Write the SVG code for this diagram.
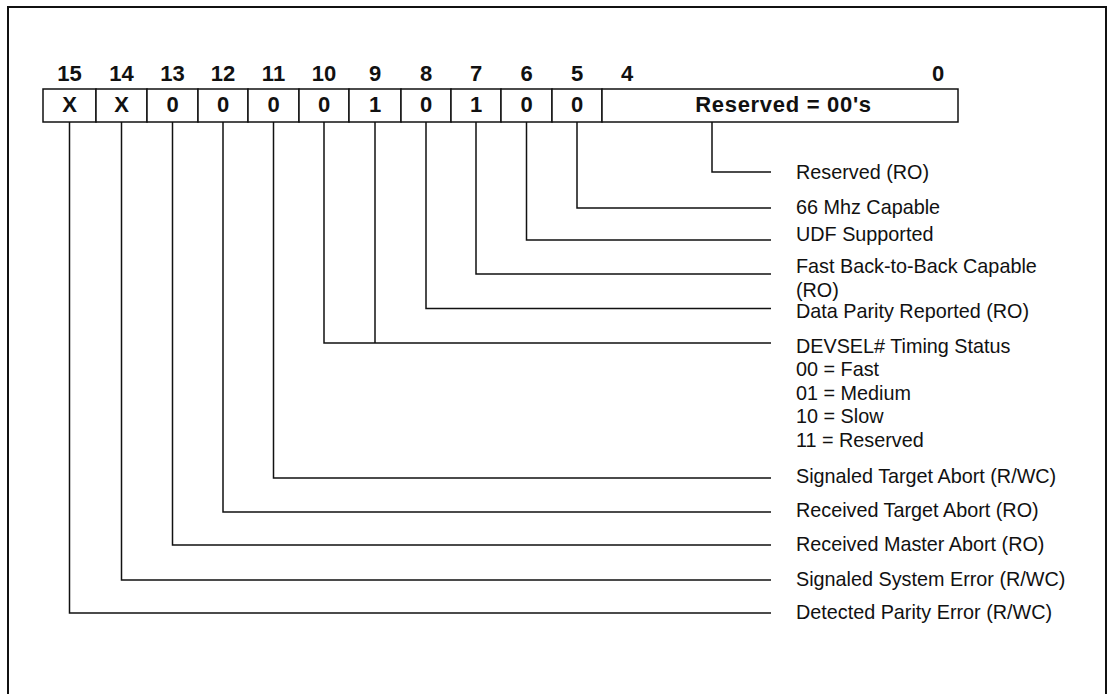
<svg xmlns="http://www.w3.org/2000/svg" width="1111" height="694" viewBox="0 0 1111 694">
<style>
.frame{fill:none;stroke:#111;stroke-width:2}
.cell{fill:#fff;stroke:#111;stroke-width:1.5}
.b{font-family:"Liberation Sans",Arial,Helvetica,sans-serif;font-weight:bold;font-size:22px;fill:#111;text-anchor:middle}
.wide{letter-spacing:0.7px}
.lbl{font-family:"Liberation Sans",Arial,Helvetica,sans-serif;font-size:19.8px;fill:#111}
.conn{fill:none;stroke:#111;stroke-width:1.5}
</style>
<rect x="0" y="0" width="1111" height="694" fill="#fff"/>
<rect class="frame" x="8" y="7" width="1098" height="700"/>
<g id="bit-numbers">
<text class="b" x="69.5" y="81">15</text>
<text class="b" x="121.5" y="81">14</text>
<text class="b" x="172.5" y="81">13</text>
<text class="b" x="223" y="81">12</text>
<text class="b" x="273.5" y="81">11</text>
<text class="b" x="324" y="81">10</text>
<text class="b" x="375" y="81">9</text>
<text class="b" x="426" y="81">8</text>
<text class="b" x="476" y="81">7</text>
<text class="b" x="526.5" y="81">6</text>
<text class="b" x="577" y="81">5</text>
<text class="b" x="627" y="81">4</text>
<text class="b" x="938" y="81">0</text>
</g>
<g id="register">
<g id="bit15"><rect class="cell" x="43" y="89" width="53" height="33"/><text class="b" x="69.5" y="112">X</text></g>
<g id="bit14"><rect class="cell" x="96" y="89" width="51" height="33"/><text class="b" x="121.5" y="112">X</text></g>
<g id="bit13"><rect class="cell" x="147" y="89" width="51" height="33"/><text class="b" x="172.5" y="112">0</text></g>
<g id="bit12"><rect class="cell" x="198" y="89" width="50" height="33"/><text class="b" x="223" y="112">0</text></g>
<g id="bit11"><rect class="cell" x="248" y="89" width="51" height="33"/><text class="b" x="273.5" y="112">0</text></g>
<g id="bit10"><rect class="cell" x="299" y="89" width="50" height="33"/><text class="b" x="324" y="112">0</text></g>
<g id="bit9"><rect class="cell" x="349" y="89" width="52" height="33"/><text class="b" x="375" y="112">1</text></g>
<g id="bit8"><rect class="cell" x="401" y="89" width="50" height="33"/><text class="b" x="426" y="112">0</text></g>
<g id="bit7"><rect class="cell" x="451" y="89" width="50" height="33"/><text class="b" x="476" y="112">1</text></g>
<g id="bit6"><rect class="cell" x="501" y="89" width="51" height="33"/><text class="b" x="526.5" y="112">0</text></g>
<g id="bit5"><rect class="cell" x="552" y="89" width="50" height="33"/><text class="b" x="577" y="112">0</text></g>
<g id="bits4-0"><rect class="cell" x="602" y="89" width="356" height="33"/><text class="b wide" x="783.5" y="112">Reserved = 00's</text></g>
</g>
<g id="connectors">
<path class="conn" d="M712,122V172H771"/>
<path class="conn" d="M577,122V208H771"/>
<path class="conn" d="M526.5,122V240H771"/>
<path class="conn" d="M476,122V274H771"/>
<path class="conn" d="M426,122V308.5H771"/>
<path class="conn" d="M324,122V343H771"/>
<path class="conn" d="M375,122V343"/>
<path class="conn" d="M273.5,122V478H771"/>
<path class="conn" d="M223,122V512H771"/>
<path class="conn" d="M172.5,122V545H771"/>
<path class="conn" d="M121.5,122V580H771"/>
<path class="conn" d="M69.5,122V613H771"/>
</g>
<g id="label-reserved"><text class="lbl" x="796" y="179">Reserved (RO)</text></g>
<g id="label-66mhz"><text class="lbl" x="796" y="213.5">66 Mhz Capable</text></g>
<g id="label-udf"><text class="lbl" x="796" y="241">UDF Supported</text></g>
<g id="label-fastb2b"><text class="lbl" x="796" y="273">Fast Back-to-Back Capable</text><text class="lbl" x="796" y="297">(RO)</text></g>
<g id="label-dataparity"><text class="lbl" x="796" y="317.5">Data Parity Reported (RO)</text></g>
<g id="label-devsel">
<text class="lbl" x="796" y="352.5">DEVSEL# Timing Status</text>
<text class="lbl" x="796" y="376">00 = Fast</text>
<text class="lbl" x="796" y="400">01 = Medium</text>
<text class="lbl" x="796" y="423.3">10 = Slow</text>
<text class="lbl" x="796" y="446.5">11 = Reserved</text>
</g>
<g id="label-sigtarget"><text class="lbl" x="796" y="483">Signaled Target Abort (R/WC)</text></g>
<g id="label-rcvtarget"><text class="lbl" x="796" y="517">Received Target Abort (RO)</text></g>
<g id="label-rcvmaster"><text class="lbl" x="796" y="551">Received Master Abort (RO)</text></g>
<g id="label-sigsystem"><text class="lbl" x="796" y="586">Signaled System Error (R/WC)</text></g>
<g id="label-detparity"><text class="lbl" x="796" y="619">Detected Parity Error (R/WC)</text></g>
</svg>
